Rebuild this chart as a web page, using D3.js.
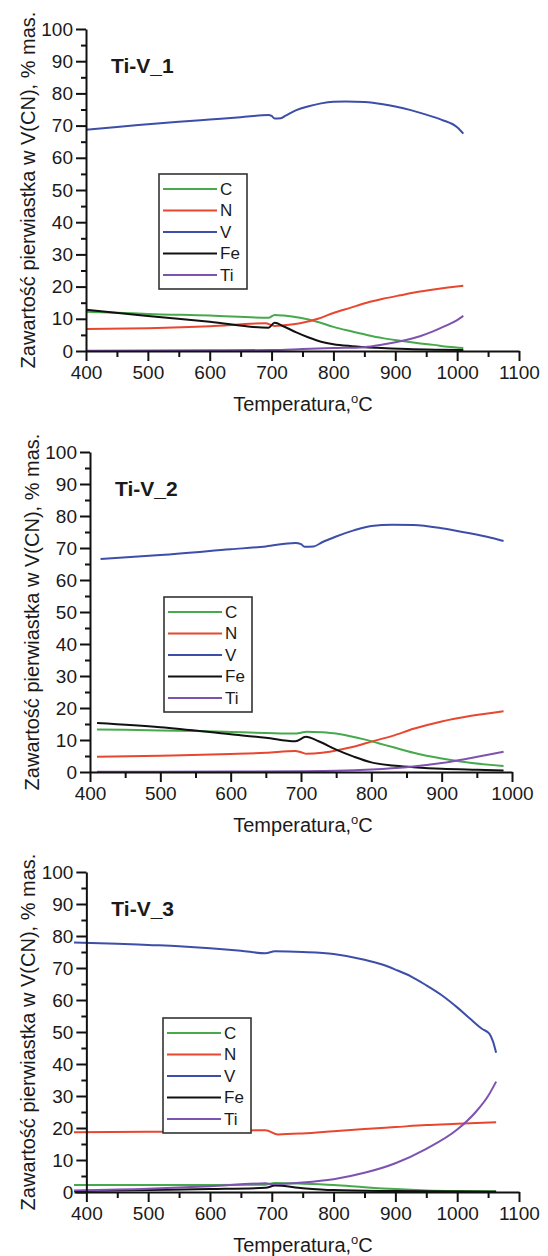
<!DOCTYPE html>
<html>
<head>
<meta charset="utf-8">
<script src="https://cdn.jsdelivr.net/npm/d3@7/dist/d3.min.js"></script>
<style>
  body { margin: 0; background: #fff; }
  svg { display: block; }
  text { font-family: "Liberation Sans", Arial, sans-serif; fill: #1a1a1a; }
</style>
</head>
<body>
<svg width="548" height="1256"></svg>
<script>
/* globals d3 */

var elements = ["C", "N", "V", "Fe", "Ti"];
var sampleNames = ["Ti-V_1", "Ti-V_2", "Ti-V_3"];
var yMajor = [0, 10, 20, 30, 40, 50, 60, 70, 80, 90, 100];
var yMinor = [5, 15, 25, 35, 45, 55, 65, 75, 85, 95];
var xMajor1 = [400, 500, 600, 700, 800, 900, 1000, 1100];
var xMajor2 = [400, 500, 600, 700, 800, 900, 1000];
var xMinor1 = [450, 550, 650, 750, 850, 950, 1050];
var xMinor2 = [450, 550, 650, 750, 850, 950];

// [temperatura, % mas.]  Ti-V_1
var c1 = [[400,12.2],[450,11.9],[500,11.5],[600,11.0],[695,10.3],[705,11.2],[720,11.0],[746,10.3],[775,9.0],[800,7.5],[827,6.2],[854,5.0],[880,4.0],[908,3.2],[935,2.5],[962,1.9],[985,1.3],[1010,0.9]];
var n1 = [[400,6.8],[500,7.1],[600,7.7],[690,8.6],[705,7.8],[720,8.0],[746,8.6],[775,10.0],[800,11.8],[827,13.4],[854,15.0],[880,16.2],[908,17.3],[935,18.3],[962,19.1],[985,19.7],[1010,20.3]];
var v1 = [[400,68.7],[450,69.6],[500,70.4],[550,71.2],[600,71.9],[650,72.6],[695,73.3],[700,73.0],[705,72.2],[715,72.3],[722,73.0],[740,74.8],[760,76.0],[780,76.9],[800,77.4],[820,77.5],[850,77.3],[880,76.6],[900,75.9],[925,74.8],[950,73.4],[975,71.8],[1000,69.5],[1010,67.5]];
var fe1 = [[400,12.8],[500,10.9],[600,9.1],[695,7.2],[705,8.8],[720,7.6],[740,5.8],[760,4.2],[780,2.9],[800,2.1],[830,1.5],[870,1.0],[920,0.6],[970,0.4],[1010,0.3]];
var ti1 = [[400,0.1],[600,0.2],[700,0.3],[750,0.6],[800,0.9],[850,1.2],[880,2.0],[910,3.1],[940,4.6],[960,6.0],[980,7.7],[1000,9.6],[1010,10.9]];

// Ti-V_2
var c2 = [[410,13.3],[450,13.2],[500,13.0],[550,12.8],[600,12.5],[650,12.2],[692,12.0],[700,12.3],[708,12.6],[730,12.4],[750,12.0],[770,11.2],[790,10.2],[810,9.0],[830,7.8],[860,6.0],[900,4.2],[940,2.9],[988,1.9]];
var n2 = [[410,4.8],[500,5.1],[600,5.6],[650,6.0],[692,6.6],[700,6.2],[708,5.7],[730,6.0],[760,7.2],[780,8.2],[800,9.5],[830,11.3],[860,13.5],[900,15.8],[940,17.5],[988,19.0]];
var v2 = [[415,66.6],[500,67.8],[600,69.6],[650,70.5],[692,71.6],[700,71.2],[705,70.4],[718,70.5],[730,71.8],[750,73.6],[775,75.5],[800,76.9],[830,77.3],[860,77.2],[900,76.2],[940,74.6],[970,73.2],[988,72.2]];
var fe2 = [[410,15.3],[500,14.0],[600,11.8],[650,10.7],[692,9.6],[707,11.0],[725,9.6],[750,7.0],[775,4.8],[800,3.0],[830,2.0],[860,1.5],[900,1.0],[950,0.7],[988,0.5]];
var ti2 = [[410,0.1],[600,0.15],[700,0.25],[750,0.4],[800,0.8],[850,1.5],[900,2.8],[940,4.3],[988,6.3]];

// Ti-V_3
var c3 = [[380,2.2],[500,2.2],[600,2.2],[690,2.3],[705,2.8],[750,2.6],[800,2.2],[850,1.5],[900,0.9],[950,0.5],[1000,0.3],[1063,0.2]];
var n3 = [[380,18.7],[500,18.8],[600,19.0],[690,19.3],[710,18.0],[750,18.3],[800,19.0],[850,19.7],[900,20.3],[950,20.9],[1000,21.3],[1063,21.8]];
var v3 = [[380,78.0],[450,77.6],[500,77.2],[550,76.8],[600,76.2],[650,75.4],[690,74.6],[705,75.2],[750,75.0],[800,74.4],[850,72.6],[880,71.0],[900,69.5],[925,67.4],[950,64.6],[975,61.5],[1000,57.7],[1020,54.3],[1040,51.0],[1052,49.5],[1058,47.0],[1063,43.5]];
var fe3 = [[380,0.3],[500,0.6],[600,0.9],[690,1.3],[705,2.0],[750,1.2],[800,0.6],[900,0.3],[1063,0.1]];
var ti3 = [[380,0.5],[500,1.0],[600,1.8],[690,2.7],[700,2.5],[750,3.0],[800,4.0],[850,6.0],[900,9.0],[950,13.5],[1000,19.5],[1030,25.0],[1050,30.0],[1063,34.5]];

var colors = ["#46a94b", "#e8472f", "#3d4ea8", "#111111", "#7e52b0"];

var panels = [
  { series: [c1, n1, v1, fe1, ti1], xDomain: [400, 1100], xRange: [86, 519], yRange: [351, 29],
    major: xMajor1, minor: xMinor1, legend: [159, 174] },
  { series: [c2, n2, v2, fe2, ti2], xDomain: [400, 1000], xRange: [90, 512], yRange: [772, 452],
    major: xMajor2, minor: xMinor2, legend: [164, 597] },
  { series: [c3, n3, v3, fe3, ti3], xDomain: [380, 1100], xRange: [74, 519], yRange: [1192, 872],
    major: xMajor1, minor: xMinor1, legend: [163, 1018] }
];

var svg = d3.select("svg");

panels.forEach(function(p, i) {
  var x = d3.scaleLinear().domain(p.xDomain).range(p.xRange),
      y = d3.scaleLinear().domain([0, 100]).range(p.yRange);
  var ax = x(400), y0 = y(0);
  var g = svg.append("g");

  // lines
  var line = d3.line()
    .x(function(d) { return x(d[0]); })
    .y(function(d) { return y(d[1]); })
    .curve(d3.curveMonotoneX);

  p.series.forEach(function(s, k) {
    g.append("path")
      .attr("d", line(s))
      .attr("fill", "none")
      .attr("stroke", colors[k])
      .attr("stroke-width", 2)
      .attr("stroke-linejoin", "round");
  });

  // x axis
  g.append("g")
    .attr("transform", "translate(0," + y0 + ")")
    .call(d3.axisBottom(x).tickValues(p.minor).tickSize(6).tickSizeOuter(0).tickFormat(""))
    .call(function(a) { a.select(".domain").remove(); });
  g.append("g")
    .attr("transform", "translate(0," + y0 + ")")
    .call(d3.axisBottom(x).tickValues(p.major).tickSize(10).tickSizeOuter(0).tickPadding(5).tickFormat(d3.format("d")));

  // y axis
  g.append("g")
    .attr("transform", "translate(" + ax + ",0)")
    .call(d3.axisLeft(y).tickValues(yMinor).tickSize(5).tickSizeOuter(0).tickFormat(""))
    .call(function(a) { a.select(".domain").remove(); });
  g.append("g")
    .attr("transform", "translate(" + ax + ",0)")
    .call(d3.axisLeft(y).tickValues(yMajor).tickSize(10).tickSizeOuter(0).tickPadding(3));

  g.selectAll(".domain, .tick line").attr("stroke", "#111").attr("stroke-width", 2);
  g.selectAll(".tick text").attr("font-size", 19).attr("font-family", "Liberation Sans, Arial, sans-serif").attr("fill", "#1a1a1a");

  // titles
  g.append("text")
    .attr("x", ax + 25).attr("y", y(100) + 44)
    .attr("font-size", 21).attr("font-weight", "bold")
    .text(sampleNames[i]);

  g.append("text")
    .attr("transform", "translate(" + (ax - 58) + "," + ((y(0) + y(100)) / 2) + ") rotate(-90)")
    .attr("text-anchor", "middle").attr("dominant-baseline", "central")
    .attr("font-size", 20)
    .text("Zawartość pierwiastka w V(CN), % mas.");

  var xt = g.append("text")
    .attr("x", 303).attr("y", y0 + 60)
    .attr("text-anchor", "middle")
    .attr("font-size", 20);
  xt.append("tspan").text("Temperatura,");
  xt.append("tspan").attr("font-size", 13).attr("dy", -8).text("o");
  xt.append("tspan").attr("dy", 8).text("C");

  // legend
  var lx = p.legend[0], ly = p.legend[1];
  var lg = g.append("g").attr("transform", "translate(" + lx + "," + ly + ")");
  lg.append("rect")
    .attr("width", 88).attr("height", 115)
    .attr("fill", "#fff").attr("stroke", "#333").attr("stroke-width", 1.6);
  elements.forEach(function(el, k) {
    var ry = 15 + k * 21.5;
    lg.append("line")
      .attr("x1", 4).attr("x2", 58).attr("y1", ry).attr("y2", ry)
      .attr("stroke", colors[k]).attr("stroke-width", 2);
    lg.append("text")
      .attr("x", 61).attr("y", ry)
      .attr("dominant-baseline", "central")
      .attr("font-size", 17)
      .text(el);
  });
});
</script>
</body>
</html>
